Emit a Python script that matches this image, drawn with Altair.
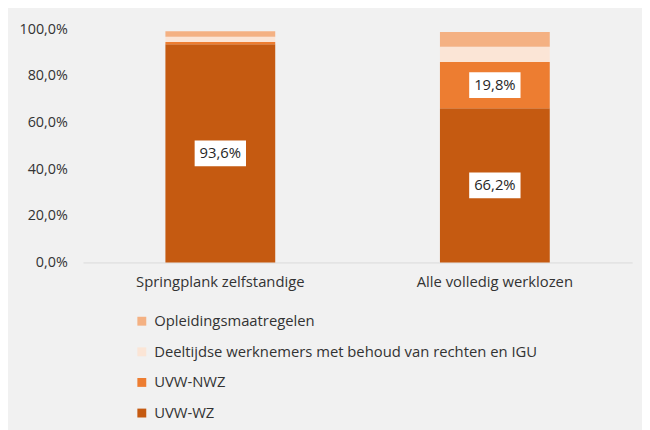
import altair as alt
import pandas as pd

categories = ["Springplank zelfstandige", "Alle volledig werklozen"]
series = ["UVW-WZ", "UVW-NWZ", "Deeltijdse werknemers met behoud van rechten en IGU", "Opleidingsmaatregelen"]
uvw_wz = [0.936, 0.662]
uvw_nwz = [0.010, 0.198]
deeltijds = [0.022, 0.066]
opleiding = [0.024, 0.063]
colors = ["#C55A11", "#ED7D31", "#FBE5D6", "#F4B183"]
labelled = {"UVW-WZ": [True, True], "UVW-NWZ": [False, True]}

rows = []
for i, c in enumerate(categories):
    for s, vals in zip(series, [uvw_wz, uvw_nwz, deeltijds, opleiding]):
        rows.append({"cat": c, "serie": s, "val": vals[i], "order": series.index(s),
                     "show": labelled.get(s, [False, False])[i]})
df = pd.DataFrame(rows)

FONT = "Open Sans"
TXT = "#333333"

x = alt.X("cat:N", sort=categories, title=None,
          scale=alt.Scale(paddingInner=0.6, paddingOuter=0.3),
          axis=alt.Axis(labelAngle=0, ticks=False, domainColor="#D9D9D9", labelPadding=12,
                        labelFontSize=15, labelColor=TXT, labelFont=FONT))
y = alt.Y("sum(val):Q", stack="zero", title=None,
          scale=alt.Scale(domain=[0, 1], nice=False),
          axis=alt.Axis(values=[0, 0.2, 0.4, 0.6, 0.8, 1.0], grid=False, ticks=False, domain=False,
                        labelPadding=16, labelFontSize=14.5, labelColor=TXT, labelFont=FONT,
                        labelExpr="replace(format(datum.value, '.1%'), '.', ',')"))

bars = alt.Chart(df).mark_bar().encode(
    x=x, y=y,
    color=alt.Color("serie:N", sort=series[::-1],
                    scale=alt.Scale(domain=series[::-1], range=colors[::-1]),
                    legend=alt.Legend(title=None, orient="none", legendX=52, legendY=288,
                                      direction="vertical", symbolType="square", symbolSize=81,
                                      symbolStrokeWidth=0, labelFontSize=15, labelColor=TXT,
                                      labelFont=FONT, rowPadding=15, labelOffset=5,
                                      labelLimit=600)),
    order=alt.Order("order:Q", sort="ascending"),
)

base = alt.Chart(df).transform_stack(
    stack="val", groupby=["cat"], as_=["v0", "v1"], sort=[alt.SortField("order", "ascending")]
).transform_calculate(
    mid="(datum.v0 + datum.v1) / 2",
    lab="replace(format(datum.val, '.1%'), '.', ',')"
).transform_filter("datum.show")

boxes = base.mark_point(shape="M-1,-0.5H1V0.5H-1Z", filled=True, color="white", opacity=1,
                        size=2704).encode(
    x=alt.X("cat:N", sort=categories), y=alt.Y("mid:Q"))
texts = base.mark_text(font=FONT, fontSize=15, color="#262626").encode(
    x=alt.X("cat:N", sort=categories), y=alt.Y("mid:Q"), text="lab:N")

chart = alt.layer(bars, boxes, texts).properties(
    width=556, height=236,
    autosize=alt.AutoSizeParams(type="none"),
    padding={"left": 76, "top": 19, "right": 10, "bottom": 167},
    background="#F1F1F1",
).configure_view(stroke=None)

chart.save("out.html", embed_options={"renderer": "svg", "actions": False})
